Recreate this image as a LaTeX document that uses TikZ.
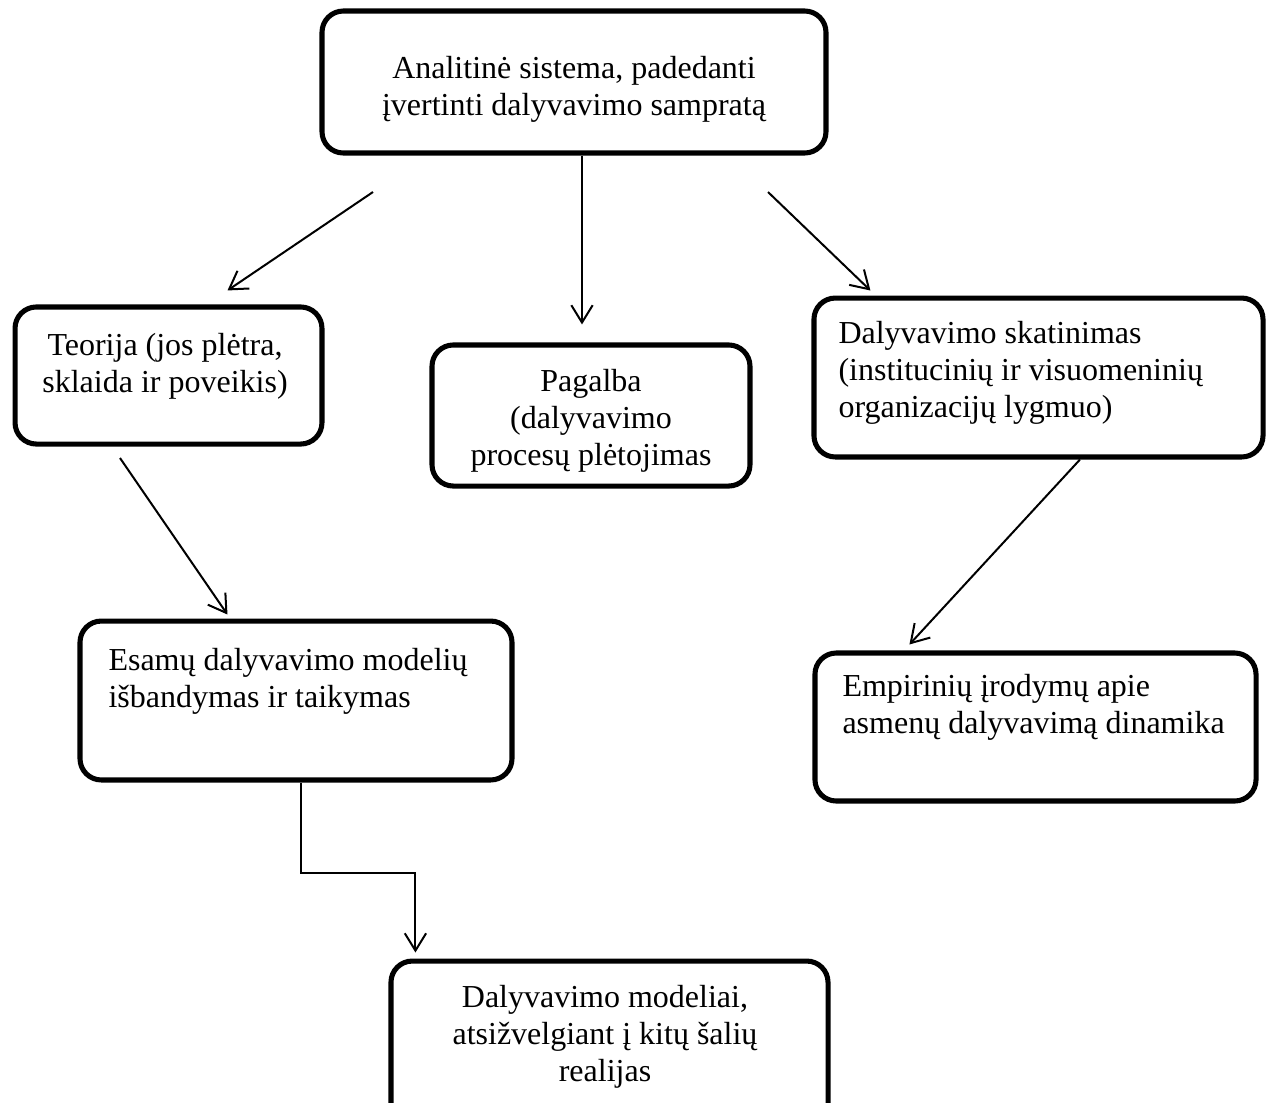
\documentclass[tikz,border=0pt]{standalone}
\usepackage{fontspec}
\setmainfont{Liberation Serif}
\usetikzlibrary{arrows.meta,positioning,calc}

\begin{document}
\begin{tikzpicture}[x=0.375pt, y=-0.375pt,
    box/.style={draw, line width=1.9pt, rounded corners=8pt, inner sep=0pt},
    txt/.style={font=\fontsize{12}{13.8}\selectfont, inner sep=0pt},
    arr/.style={line width=0.75pt,
        -{Straight Barb[length=6.5pt,width=8pt,line width=0.75pt]}}]

\clip (0,0) rectangle (1266,1102);

% boxes
\node[box, minimum width=189pt, minimum height=53.25pt](sys) at (574,82){};
\node[box, minimum width=115.1pt, minimum height=51.4pt](teoria) at (168.5,375.5){};
\node[box, minimum width=119.25pt, minimum height=52.9pt](pagalba) at (591,415.5){};
\node[box, minimum width=168.4pt, minimum height=59.6pt](skat) at (1038.5,377.5){};
\node[box, minimum width=162pt, minimum height=59.6pt](esamu) at (296,700.5){};
\node[box, minimum width=165.4pt, minimum height=55.5pt](empir) at (1035.5,727){};
\node[box, minimum width=163.9pt, minimum height=67.1pt](model) at (609.5,1050.5){};

% texts (base = last line)
\node[txt, align=center, anchor=base](sysT) at (574,115)
    {Analitinė sistema, padedanti\\įvertinti dalyvavimo sampratą};
\node[txt, align=center, anchor=base](teoriaT) at (165,392)
    {Teorija (jos plėtra,\\sklaida ir poveikis)};
\node[txt, align=center, anchor=base](pagalbaT) at (591,465)
    {Pagalba\\(dalyvavimo\\procesų plėtojimas};
\node[txt, align=left, anchor=base west](skatT) at (838,417)
    {Dalyvavimo skatinimas\\(institucinių ir visuomeninių\\organizacijų lygmuo)};
\node[txt, align=left, anchor=base west](esamuT) at (108,707)
    {Esamų dalyvavimo modelių\\išbandymas ir taikymas};
\node[txt, align=left, anchor=base west](empirT) at (842,733)
    {Empirinių įrodymų apie\\asmenų dalyvavimą dinamika};
\node[txt, align=center, anchor=base](modelT) at (605,1081)
    {Dalyvavimo modeliai,\\atsižvelgiant į kitų šalių\\realijas};

% connectors
\coordinate (a1) at (373,192);
\coordinate (c1) at (768,192);
\coordinate (d1) at (120,458);

\draw[arr] (a1) -- ($(teoria.north)+(59,-14)$);
\draw[arr] ($(sys.south)+(8,0)$) -- ($(pagalba.north)+(-9,-18)$);
\draw[arr] (c1) -- ($(skat.north west)+(59,-5)$);
\draw[arr] (d1) -- ($(esamu.north west)+(150,-4)$);
\draw[arr] ($(skat.south)+(41.5,0)$) -- ($(empir.north west)+(97,-6)$);
\draw[arr] ($(esamu.south)+(5,0)$) -- ++(0,90) -| ($(model.north west)+(27,-6)$);

\end{tikzpicture}
\end{document}
